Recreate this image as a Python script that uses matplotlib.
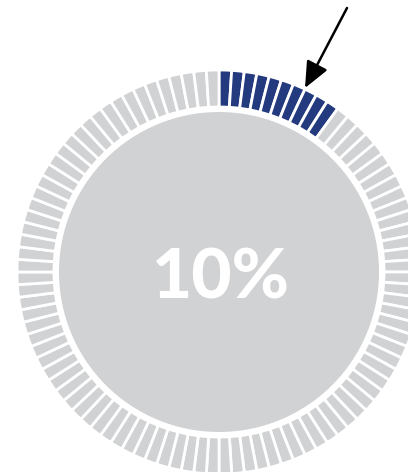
import numpy as np
import matplotlib
matplotlib.use("Agg")
import matplotlib.pyplot as plt
from matplotlib.patches import Polygon, Circle

# ---- data ----
n_segments = 100
value_pct = 10
label = f"{value_pct}%"

# ---- style ----
grey = "#d1d2d4"
blue = "#243a7f"
W, H = 408, 472
cx, cy = 219, 272
r_inner_circle = 160
r_in, r_out = 165, 202

fig = plt.figure(figsize=(W / 100, H / 100), dpi=100)
ax = fig.add_axes([0, 0, 1, 1])
ax.set_xlim(0, W)
ax.set_ylim(H, 0)
ax.set_aspect("equal")
ax.axis("off")

n_filled = int(round(n_segments * value_pct / 100))
step = 360.0 / n_segments
for i in range(n_segments):
    a0, a1 = np.radians(i * step), np.radians((i + 1) * step)
    t = np.linspace(a0, a1, 8)
    xo = cx + r_out * np.sin(t); yo = cy - r_out * np.cos(t)
    xi = cx + r_in * np.sin(t[::-1]); yi = cy - r_in * np.cos(t[::-1])
    pts = np.column_stack([np.concatenate([xo, xi]), np.concatenate([yo, yi])])
    col = blue if i < n_filled else grey
    ax.add_patch(Polygon(pts, closed=True, facecolor=col, edgecolor="white",
                         linewidth=2.0, joinstyle="miter"))

ax.add_patch(Circle((cx, cy), r_inner_circle, facecolor=grey, edgecolor="none"))

ax.text(cx + 2, cy + 7, label, ha="center", va="center", color="white",
        fontsize=50, fontweight="black", family="Lato")

ax.annotate("", xy=(305, 88), xytext=(347, 8),
            arrowprops=dict(arrowstyle="-|>,head_length=1.6,head_width=0.7",
                            color="black", lw=1.8, shrinkA=0, shrinkB=0))

fig.savefig("out.png", dpi=100)
